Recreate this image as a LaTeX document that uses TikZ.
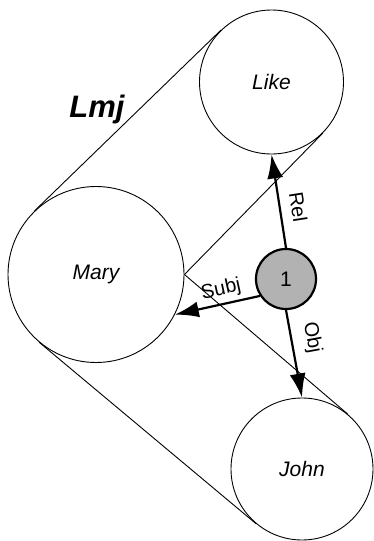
\documentclass[tikz,border=0pt]{standalone}
\usepackage{fontspec}
\setmainfont{Liberation Sans}
\usetikzlibrary{arrows.meta}

\begin{document}
\begin{tikzpicture}[
    x=1pt, y=-1pt,
    word/.style={
        circle, draw, line width=0.9pt, inner sep=0pt,
        minimum size=#1, font=\fontsize{21}{21}\selectfont\itshape,
    },
    head/.style={
        circle, draw, line width=2.2pt, fill=black!30, inner sep=0pt,
        minimum size=60pt, font=\fontsize{21}{21}\selectfont,
    },
    hull/.style={line width=0.9pt},
    arr/.style={-{Latex[length=24pt, width=16pt]}, line width=2.2pt},
    role/.style={font=\fontsize{20}{20}\selectfont, sloped, above=#1, inner sep=1pt},
]
\useasboundingbox (0,0) rectangle (374,541);

% ── Concepts ──
\node[word=144pt] (like) at (271.5, 82) {Like};
\node[word=176pt] (mary) at (96, 274.5) {Mary};
\node[word=142pt] (john) at (302, 469) {John};

% ── Relation node ──
\node[head] (one) at (286, 279) {1};

% ── Hulls round Mary and Like / Mary and John ──
\draw[hull] (mary.134) -- (like.134);
\draw[hull] (mary.east) -- (like.-45);
\draw[hull] (mary.-130) -- (john.-130);
\draw[hull] (mary.east) -- (john.50);

\node[font=\fontsize{31}{31}\selectfont\bfseries\itshape] (lmj) at (97, 109) {Lmj};

% ── Roles ──
\draw[arr] (one.north) -- (like.south) node[role=9pt, pos=0.41] {Rel};
\draw[arr] (one.213) -- (mary.-27) node[role=3pt, pos=0.42] {Subj};
\draw[arr] (one.south) -- (john.north) node[role=9pt, pos=0.36] {Obj};

\end{tikzpicture}
\end{document}
